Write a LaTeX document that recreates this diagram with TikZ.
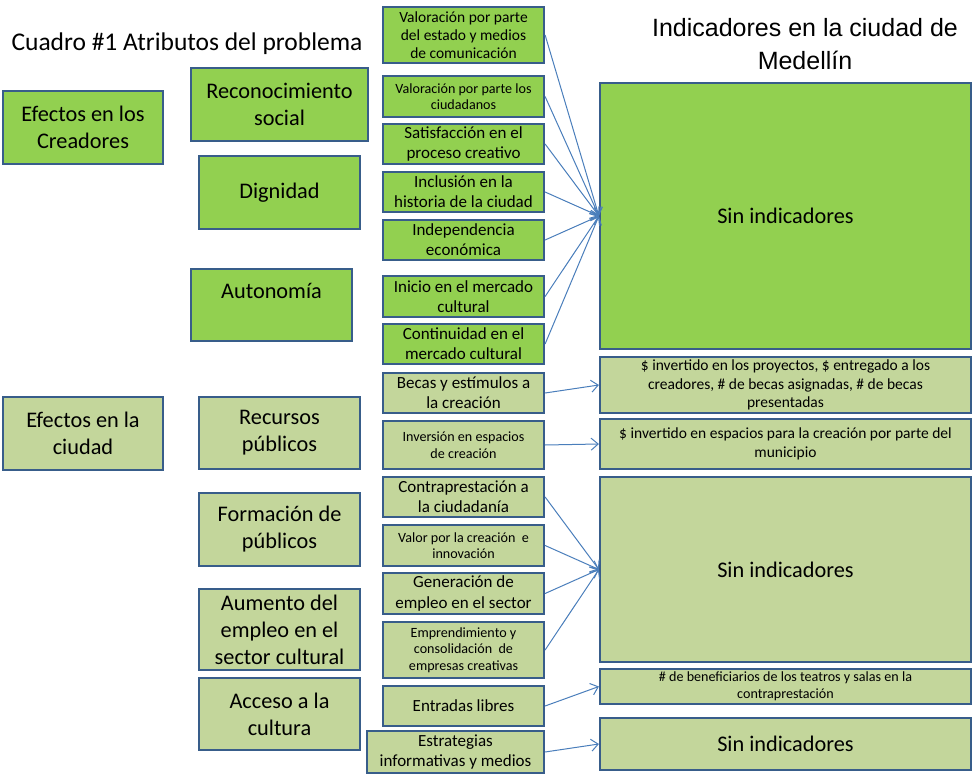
\documentclass[tikz,border=0pt]{standalone}
\usepackage{fontspec}
\usepackage{tikz}
\usetikzlibrary{arrows.meta}
\setmainfont{Carlito}
\newfontfamily\arialfont{Liberation Sans}
\definecolor{creadorcolor}{RGB}{146, 208, 80}
\definecolor{ciudadcolor}{RGB}{195, 214, 155}
\definecolor{edgecolor}{RGB}{56, 93, 138}
\definecolor{linkcolor}{RGB}{74, 126, 187}
\newcommand{\txtxl}{\fontsize{22.3}{27}\selectfont}
\newcommand{\txtmid}{\fontsize{17}{20.2}\selectfont}
\newcommand{\txtsm}{\fontsize{15.5}{18.3}\selectfont}
\newcommand{\txtxs}{\fontsize{14.1}{16.6}\selectfont}

\begin{document}
\begin{tikzpicture}[
    x=1pt, y=-1pt,
    box/.style={rectangle, draw=edgecolor, line width=2.2pt, inner sep=0pt, align=center, text=black},
    creador/.style={box, fill=creadorcolor},
    ciudad/.style={box, fill=ciudadcolor},
    link/.style={-{Straight Barb[length=7pt, width=12pt]}, draw=linkcolor, line width=1pt}
]
\useasboundingbox (0,0) rectangle (972,775);

% Titles
\node[font=\fontsize{25.5}{30}\selectfont] (t1) at (187,44) {Cuadro \#1 Atributos del problema};
\node[font=\arialfont\fontsize{25}{33}\selectfont, align=center] (t2) at (805,44) {Indicadores en la ciudad de\\Medellín};

% Effects
\node[creador, minimum width=160, minimum height=73, font=\txtxl] (ec) at (83,127.5) {Efectos en los\\Creadores};
\node[ciudad, minimum width=160, minimum height=73, font=\txtxl] (em) at (83,433.5) {Efectos en la\\ciudad};

% Attributes
\node[creador, minimum width=177, minimum height=73, font=\txtxl] (rec) at (279.5,104.5) {Reconocimiento\\social};
\node[creador, minimum width=161, minimum height=73, font=\txtxl] (dig) at (279.5,192.5) {Dignidad};
\node[creador, minimum width=161, minimum height=72, font=\txtxl] (aut) at (271.5,305) {Autonomía\\[2pt]\mbox{}};
\node[ciudad, minimum width=161, minimum height=72, font=\txtxl] (rp) at (279.5,433) {Recursos\\públicos};
\node[ciudad, minimum width=161, minimum height=73, font=\txtxl] (fp) at (279.5,529.5) {Formación de\\públicos};
\node[ciudad, minimum width=161, minimum height=81, font=\txtxl] (ae) at (279.5,629.5) {Aumento del\\empleo en el\\sector cultural};
\node[ciudad, minimum width=161, minimum height=72, font=\txtxl] (ac) at (279.5,714) {Acceso a la\\cultura};

% Variables
\node[creador, minimum width=161, minimum height=56, font=\txtsm] (v1) at (463.5,35) {Valoración por parte\\del estado y medios\\de comunicación};
\node[creador, minimum width=161, minimum height=41, font=\txtxs] (v2) at (463.5,96.5) {Valoración por parte los\\ciudadanos};
\node[creador, minimum width=161, minimum height=40, font=\txtmid] (v3) at (463.5,144) {Satisfacción en el\\proceso creativo};
\node[creador, minimum width=161, minimum height=40, font=\txtmid] (v4) at (463.5,192) {Inclusión en la\\historia de la ciudad};
\node[creador, minimum width=161, minimum height=40, font=\txtmid] (v5) at (463.5,240) {Independencia\\económica};
\node[creador, minimum width=161, minimum height=41, font=\txtmid] (v6) at (463.5,296.5) {Inicio en el mercado\\cultural};
\node[creador, minimum width=161, minimum height=40, font=\txtmid] (v7) at (463.5,344) {Continuidad en el\\mercado cultural};
\node[ciudad, minimum width=161, minimum height=40, font=\txtmid] (v8) at (463.5,393) {Becas y estímulos a\\la creación};
\node[ciudad, minimum width=161, minimum height=48, font=\txtxs] (v9) at (463.5,445) {Inversión en espacios\\de creación};
\node[ciudad, minimum width=161, minimum height=40, font=\txtmid] (v10) at (463.5,497) {Contraprestación a\\la ciudadanía};
\node[ciudad, minimum width=161, minimum height=41, font=\txtxs] (v11) at (463.5,545.5) {Valor por la creación~ e\\innovación};
\node[ciudad, minimum width=161, minimum height=41, font=\txtmid] (v12) at (463.5,593.5) {Generación de\\empleo en el sector};
\node[ciudad, minimum width=161, minimum height=56, font=\txtxs] (v13) at (463.5,650) {Emprendimiento y\\consolidación~ de\\empresas creativas};
\node[ciudad, minimum width=161, minimum height=40, font=\txtmid] (v14) at (463.5,706) {Entradas libres};
\node[ciudad, minimum width=177, minimum height=42, font=\txtmid] (v15) at (455.5,752) {Estrategias\\informativas y medios};

% Indicators
\node[creador, minimum width=371, minimum height=266, font=\txtxl] (r1) at (785.5,216) {Sin indicadores};
\node[ciudad, minimum width=371, minimum height=56, font=\txtsm] (r2) at (785.5,385) {\$ invertido en los proyectos, \$ entregado a los\\creadores, \# de becas asignadas, \# de becas\\presentadas};
\node[ciudad, minimum width=371, minimum height=50, font=\txtsm] (r3) at (785.5,444) {\$ invertido en espacios para la creación por parte del\\municipio};
\node[ciudad, minimum width=371, minimum height=185, font=\txtxl] (r4) at (785.5,569.5) {Sin indicadores};
\node[ciudad, minimum width=371, minimum height=35, font=\txtxs] (r5) at (785.5,686.5) {\# de beneficiarios de los teatros y salas en la\\contraprestación};
\node[ciudad, minimum width=371, minimum height=52, font=\txtxl] (r6) at (785.5,744) {Sin indicadores};

% Arrows
\foreach \v in {v1,v2,v3,v4,v5,v6,v7}
    \draw[link] (\v.east) -- (r1.west);
\foreach \v in {v10,v11,v12,v13}
    \draw[link] (\v.east) -- (r4.west);
\draw[link] (v8.east) -- (r2.west);
\draw[link] (v9.east) -- (r3.west);
\draw[link] (v14.east) -- (r5.west);
\draw[link] (v15.east) -- (r6.west);

\end{tikzpicture}
\end{document}
